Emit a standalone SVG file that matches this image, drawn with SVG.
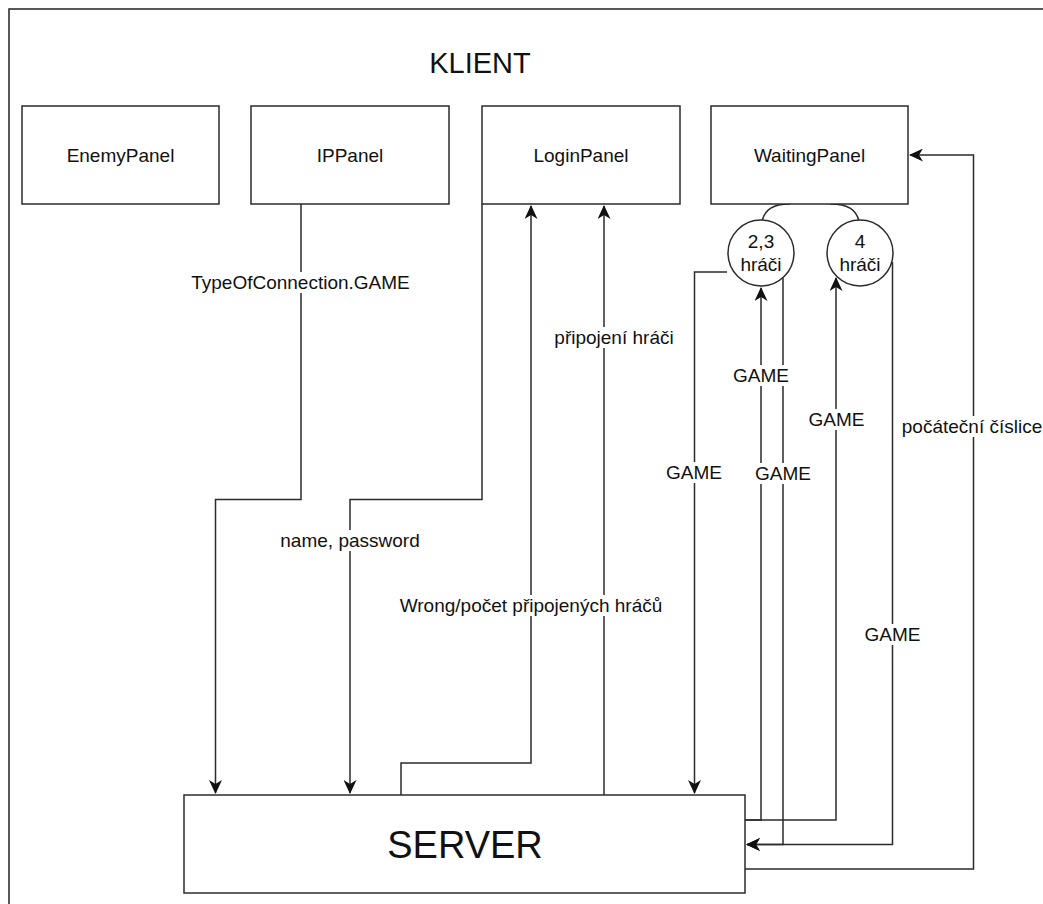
<svg xmlns="http://www.w3.org/2000/svg" width="1043" height="904" viewBox="0 0 1043 904">
<style>
.box{fill:#fff;stroke:#2b2b2b;stroke-width:1.5}
.ln{fill:none;stroke:#2b2b2b;stroke-width:1.5}
.t{font-family:"Liberation Sans",Arial,sans-serif;font-size:19px;fill:#111;text-anchor:middle}
.bg{fill:#fff}
</style>
<defs>
<marker id="ar" markerUnits="userSpaceOnUse" viewBox="0 0 14 13" refX="13" refY="6.5" markerWidth="14" markerHeight="13" orient="auto">
<path d="M0,0 L14,6.5 L0,13 L4,6.5 Z" fill="#111"/>
</marker>
</defs>
<rect width="1043" height="904" fill="#fff"/>
<path d="M9,904 V9 H1043" fill="none" stroke="#222" stroke-width="1.5"/>
<text x="480" y="73" class="t" style="font-size:29px">KLIENT</text>

<g id="connectors">
<path class="ln" d="M301,204 V499.5 H215.5 V793" marker-end="url(#ar)"/>
<path class="ln" d="M482,204 V499.5 H350 V793" marker-end="url(#ar)"/>
<path class="ln" d="M401,795 V763 H531 V206" marker-end="url(#ar)"/>
<path class="ln" d="M604,795 V206" marker-end="url(#ar)"/>
<path class="ln" d="M727,272 H694.5 V793" marker-end="url(#ar)"/>
<path class="ln" d="M745,820 H761 V288" marker-end="url(#ar)"/>
<path class="ln" d="M745,820 H836 V278" marker-end="url(#ar)"/>
<path class="ln" d="M783,278 V844.5 H747" marker-end="url(#ar)"/>
<path class="ln" d="M892.5,262 V844.5 H747" marker-end="url(#ar)"/>
<path class="ln" d="M745,869 H973.5 V155 H910" marker-end="url(#ar)"/>
<path class="ln" d="M762,221 C765,210 772,204 790,204"/>
<path class="ln" d="M859,221 C856,210 849,204 830,204"/>
<g id="labels">
<rect class="bg" x="190" y="272" width="221" height="21"/>
<text class="t" x="300.5" y="289">TypeOfConnection.GAME</text>
<rect class="bg" x="279" y="530" width="142" height="21"/>
<text class="t" x="350" y="547">name, password</text>
<rect class="bg" x="395" y="595" width="272" height="21"/>
<text class="t" x="531" y="612">Wrong/počet připojených hráčů</text>
<rect class="bg" x="555" y="327" width="118" height="21"/>
<text class="t" x="614" y="344">připojení hráči</text>
<rect class="bg" x="735" y="365" width="52" height="21"/>
<text class="t" x="761" y="382">GAME</text>
<rect class="bg" x="810" y="409" width="52" height="21"/>
<text class="t" x="836.5" y="426">GAME</text>
<rect class="bg" x="668" y="462" width="52" height="21"/>
<text class="t" x="694" y="479">GAME</text>
<rect class="bg" x="757" y="463" width="52" height="21"/>
<text class="t" x="783" y="480">GAME</text>
<rect class="bg" x="866" y="624" width="53" height="21"/>
<text class="t" x="892.5" y="641">GAME</text>
<rect class="bg" x="902" y="416" width="140" height="21"/>
<text class="t" x="972" y="433">počáteční číslice</text>
</g>
</g>

<g id="EnemyPanel">
<rect class="box" x="22" y="106" width="197" height="98"/>
<text class="t" x="120.5" y="162">EnemyPanel</text>
</g>
<g id="IPPanel">
<rect class="box" x="251" y="106" width="198" height="98"/>
<text class="t" x="350" y="162">IPPanel</text>
</g>
<g id="LoginPanel">
<rect class="box" x="482" y="106" width="198" height="98"/>
<text class="t" x="581" y="162">LoginPanel</text>
</g>
<g id="WaitingPanel">
<rect class="box" x="711" y="106" width="197" height="98"/>
<text class="t" x="809.5" y="162">WaitingPanel</text>
</g>
<g id="Hraci23">
<circle class="box" cx="761" cy="253" r="33"/>
<text class="t" x="761" y="248">2,3</text>
<text class="t" x="761" y="271">hráči</text>
</g>
<g id="Hraci4">
<circle class="box" cx="860" cy="253" r="33"/>
<text class="t" x="860" y="248">4</text>
<text class="t" x="860" y="271">hráči</text>
</g>
<g id="SERVER">
<rect class="box" x="184" y="795" width="561" height="98"/>
<text class="t" x="465" y="858" style="font-size:38px">SERVER</text>
</g>
</svg>
